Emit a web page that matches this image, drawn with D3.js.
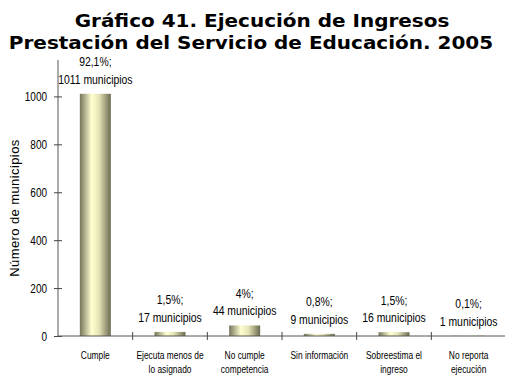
<!DOCTYPE html>
<html>
<head>
<meta charset="utf-8">
<script src="https://cdn.jsdelivr.net/npm/d3@7"></script>
<style>
  html, body { margin: 0; padding: 0; background: #fff; }
  svg { display: block; }
</style>
</head>
<body>
<svg id="chart" width="505" height="376"></svg>
<script>
// Ejecución de ingresos – prestación del servicio de educación, 2005
const categories = [
  ["Cumple"],
  ["Ejecuta menos de", "lo asignado"],
  ["No cumple", "competencia"],
  ["Sin información"],
  ["Sobreestima el", "ingreso"],
  ["No reporta", "ejecución"]
];
const municipios = [1011, 17, 44, 9, 16, 1];
const percentLabels = ["92,1%;", "1,5%;", "4%;", "0,8%;", "1,5%;", "0,1%;"];
const yTicks = [0, 200, 400, 600, 800, 1000];
const titleLines = ["Gráfico 41. Ejecución de Ingresos", "Prestación del Servicio de Educación. 2005"];
const yTitle = "Número de municipios";

// condensed sans: regular Liberation Sans squeezed horizontally
const sans = "'Liberation Sans', Arial, sans-serif";
const squeeze = 0.8;

const svg = d3.select("#chart");
const plot = { left: 58, right: 506, top: 60, bottom: 336 };

const x = d3.scaleBand()
  .domain(d3.range(categories.length))
  .range([plot.left, plot.right])
  .padding(0);

const y = d3.scaleLinear()
  .domain([0, 1152])
  .range([plot.bottom, plot.top]);

// places a text node at (px, py) scaled horizontally by sx
function placeText(sel, px, py, sx = squeeze) {
  sel.attr("x", 0).attr("y", 0)
    .attr("transform", `translate(${px},${py}) scale(${sx},1)`);
}

// bar shading: dark olive edges, pale yellow highlight
const grad = svg.append("defs").append("linearGradient")
  .attr("id", "barShade")
  .attr("x1", "0%").attr("x2", "100%").attr("y1", "0%").attr("y2", "0%");
[["0%", "#74745a"], ["38%", "#ffffd0"], ["62%", "#e6e4b6"], ["100%", "#6a6a50"]]
  .forEach(([o, c]) => grad.append("stop").attr("offset", o).attr("stop-color", c));

// title, slightly widened bold sans
svg.append("g").selectAll("text")
  .data(titleLines)
  .join("text")
  .attr("text-anchor", "middle")
  .attr("font-family", "'DejaVu Sans', Verdana, sans-serif")
  .attr("font-weight", "bold")
  .attr("font-size", 18.5)
  .attr("fill", "#000")
  .text(d => d)
  .each(function (d, i) {
    placeText(d3.select(this), i === 0 ? 262 : 251, 27 + i * 21.5, 1.08);
  });

// bars
const barW = x.bandwidth() * 0.415;
svg.append("g").selectAll("rect")
  .data(municipios)
  .join("rect")
  .attr("x", (d, i) => x(i) + (x.bandwidth() - barW) / 2)
  .attr("y", d => y(d))
  .attr("width", barW)
  .attr("height", d => y(0) - y(d))
  .attr("fill", "url(#barShade)");

// y axis
const yAxis = svg.append("g")
  .attr("transform", `translate(${plot.left},0)`)
  .call(d3.axisLeft(y).tickValues(yTicks).tickSize(4).tickFormat(d3.format("d")));
yAxis.select(".domain").attr("d", `M0,${plot.top}V${plot.bottom}`).attr("stroke", "#555");
yAxis.selectAll(".tick line").attr("x1", 4).attr("stroke", "#444");
yAxis.selectAll(".tick text")
  .attr("font-family", sans).attr("font-size", 12.5).attr("fill", "#000")
  .attr("dy", null)
  .each(function () { placeText(d3.select(this), -11, 4.5); });

// x axis baseline and category separators
const xAxis = svg.append("g");
xAxis.append("line")
  .attr("x1", plot.left).attr("x2", plot.right)
  .attr("y1", y(0)).attr("y2", y(0))
  .attr("stroke", "#555");
xAxis.selectAll(".sep")
  .data(d3.range(1, categories.length))
  .join("line")
  .attr("x1", i => x(i)).attr("x2", i => x(i))
  .attr("y1", y(0) - 4).attr("y2", y(0) + 4)
  .attr("stroke", "#444");

// category labels
categories.forEach((lines, i) => {
  lines.forEach((line, j) => {
    xAxis.append("text")
      .attr("text-anchor", "middle")
      .attr("font-family", sans)
      .attr("font-size", 10.5)
      .attr("fill", "#000")
      .text(line)
      .call(placeText, x(i) + x.bandwidth() / 2, 359 + j * 13.5);
  });
});

// value labels: percentage on the first line, count on the second
const labels = svg.append("g");
municipios.forEach((v, i) => {
  const cx = x(i) + x.bandwidth() / 2;
  const base = y(v) - 10;
  [percentLabels[i], `${v} municipios`].forEach((line, j) => {
    labels.append("text")
      .attr("text-anchor", "middle")
      .attr("font-family", sans)
      .attr("font-size", 13)
      .attr("fill", "#000")
      .text(line)
      .call(placeText, cx, base - (1 - j) * 17.5);
  });
});

// y axis title
svg.append("text")
  .attr("transform", `translate(19,208) rotate(-90)`)
  .attr("text-anchor", "middle")
  .attr("font-family", sans)
  .attr("font-size", 13)
  .attr("letter-spacing", 0.4)
  .attr("fill", "#000")
  .text(yTitle);
</script>
</body>
</html>
